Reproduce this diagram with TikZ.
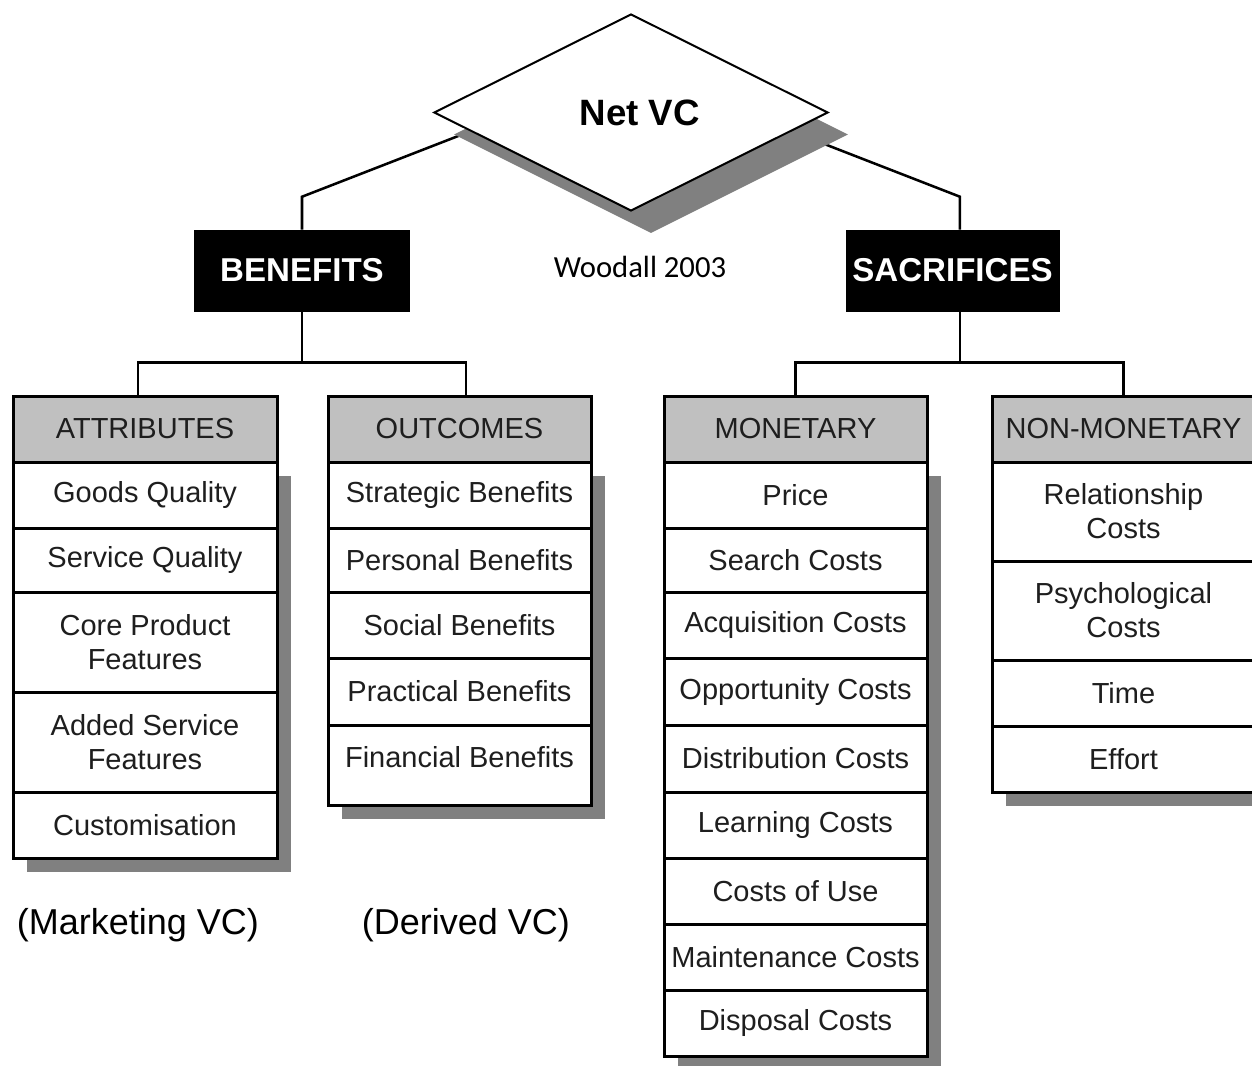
\documentclass[tikz,border=0pt]{standalone}
\usepackage{fontspec}
\setmainfont{Liberation Sans}
\newfontfamily\woodfont{Carlito}
\usetikzlibrary{shapes.geometric}
\definecolor{hdr}{RGB}{192,192,192}
\definecolor{shd}{RGB}{128,128,128}
\definecolor{txt}{RGB}{30,30,30}
\newcommand\cellfont{\fontsize{21.75pt}{25.5pt}\selectfont}
\tikzset{
  sz/.style 2 args={minimum width=#1*0.75pt, minimum height=#2*0.75pt},
  cellbox/.style={draw=black, line width=2.25pt, fill=white, inner sep=0pt, align=center, font=\cellfont, text=txt},
  hdrbox/.style={cellbox, fill=hdr},
  celltext/.style={inner sep=0pt, align=center, font=\cellfont, text=txt},
  framebox/.style={draw=black, line width=2.25pt},
  shadowbox/.style={fill=shd, draw=none},
  blackbox/.style={fill=black, draw=black, text=white, inner sep=0pt, font=\fontsize{24.8pt}{27pt}\selectfont\bfseries},
  conn/.style={draw=black, line width=1.9pt},
  diam/.style={diamond, inner sep=0pt, minimum width=295.5pt, minimum height=147.75pt}
}
\begin{document}
\begin{tikzpicture}[x=0.75pt, y=-0.75pt]
\useasboundingbox (0,0) rectangle (1252,1066);
\clip (0,0) rectangle (1252,1066);
\fill[white] (0,0) rectangle (1252,1066);

% top boxes
\node[blackbox, sz={215}{81}] (ben) at (302,270.5) {BENEFITS};
\node[blackbox, sz={213}{81}] (sac) at (952.5,270.5) {SACRIFICES};
\node[font=\woodfont\fontsize{23pt}{26pt}\selectfont] (wood) at (640,267) {Woodall 2003};

\coordinate (lhook) at (520,112);
\coordinate (rhook) at (742,112);
\draw[conn] (ben.north) -- ++(0,-33) -- (lhook);
\draw[conn] ([xshift=5.6pt]sac.north) -- ++(0,-33) -- (rhook);

% diamond with shadow
\node[diam, fill=shd] (netshadow) at (651,134.5) {};
\node[diam, draw=black, line width=1.5pt, fill=white, font=\fontsize{27.5pt}{30pt}\selectfont\bfseries] (net) at (631,112.5) {\hspace*{13pt}Net VC};

% shadows of columns
\fill[shadowbox] (27,476) rectangle (291,872);
\fill[shadowbox] (342,476) rectangle (605,819);
\fill[shadowbox] (678,476) rectangle (941,1070);
\fill[shadowbox] (1006,476) rectangle (1269,806);

% ATTRIBUTES
\node[hdrbox, sz={264}{66}] (a0) at (145,429) {ATTRIBUTES};
\node[cellbox, sz={264}{66}] (a1) at (145,495) {Goods Quality};
\node[cellbox, sz={264}{64}] (a2) at (145,560) {Service Quality};
\node[cellbox, sz={264}{100}] (a3) at (145,642) {Core Product\\Features};
\node[cellbox, sz={264}{100}] (a4) at (145,742) {Added Service\\Features};
\node[cellbox, sz={264}{66}] (a5) at (145,825) {Customisation};
\draw[framebox] (13,396) rectangle (277,858);

% OUTCOMES
\fill[white] (328,396) rectangle (591,805);
\node[hdrbox, sz={263}{66}] (o0) at (459.5,429) {OUTCOMES};
\node[cellbox, sz={263}{66}] (o1) at (459.5,495) {Strategic Benefits};
\node[cellbox, sz={263}{64}] (o2) at (459.5,560) {Personal Benefits};
\node[cellbox, sz={263}{66}] (o3) at (459.5,625) {Social Benefits};
\node[cellbox, sz={263}{67}] (o4) at (459.5,691.5) {Practical Benefits};
\node[celltext] (o5) at (459.5,757) {Financial Benefits};
\draw[framebox] (328,396) rectangle (591,805);

% MONETARY
\node[hdrbox, sz={263}{66}] (m0) at (795.5,429) {MONETARY};
\node[cellbox, sz={263}{66}] (m1) at (795.5,495) {Price};
\node[cellbox, sz={263}{64}] (m2) at (795.5,560) {Search Costs};
\node[cellbox, sz={263}{66}] (m3) at (795.5,625) {Acquisition Costs};
\node[cellbox, sz={263}{67}] (m4) at (795.5,691.5) {Opportunity Costs};
\node[cellbox, sz={263}{67}] (m5) at (795.5,758.5) {Distribution Costs};
\node[cellbox, sz={263}{66}] (m6) at (795.5,825) {Learning Costs};
\node[cellbox, sz={263}{66}] (m7) at (795.5,891) {Costs of Use};
\node[cellbox, sz={263}{66}] (m8) at (795.5,957) {Maintenance Costs};
\node[cellbox, sz={263}{66}] (m9) at (795.5,1023) {Disposal Costs};
\draw[framebox] (664,396) rectangle (927,1056);

% NON-MONETARY
\node[hdrbox, sz={263}{66}] (n0) at (1123.5,429) {NON-MONETARY};
\node[cellbox, sz={263}{99}] (n1) at (1123.5,511.5) {Relationship\\Costs};
\node[cellbox, sz={263}{99}] (n2) at (1123.5,610.5) {Psychological\\Costs};
\node[cellbox, sz={263}{66}] (n3) at (1123.5,693) {Time};
\node[cellbox, sz={263}{66}] (n4) at (1123.5,759) {Effort};
\draw[framebox] (992,396) rectangle (1255,792);

% connectors down
\draw[conn] (ben.south) -- ++(0,51) coordinate (bj) -| ([xshift=-5.25pt]a0.north);
\draw[conn] (bj) -| ([xshift=4.875pt]o0.north);
\draw[conn] ([xshift=5.6pt]sac.south) -- ++(0,51) coordinate (sj) -| (m0.north);
\draw[conn] (sj) -| (n0.north);

% bottom labels
\node[font=\fontsize{27pt}{30pt}\selectfont] (mvc) at (138,925) {(Marketing VC)};
\node[font=\fontsize{27pt}{30pt}\selectfont] (dvc) at (466,925) {(Derived VC)};
\end{tikzpicture}
\end{document}
